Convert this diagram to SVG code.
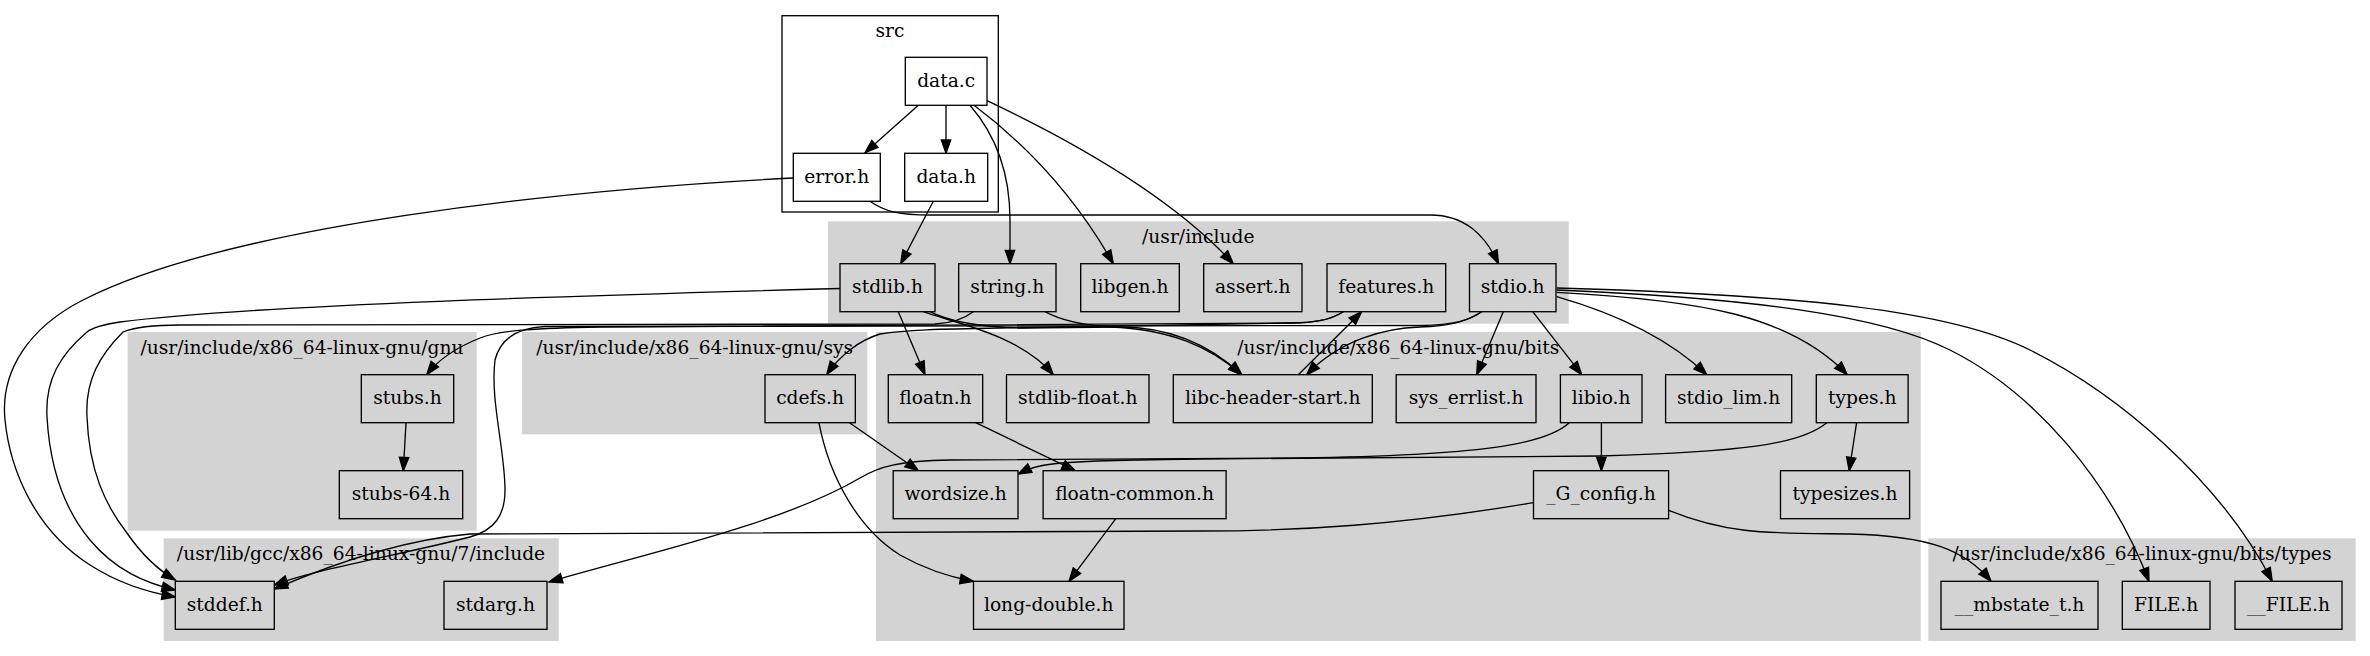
<svg xmlns="http://www.w3.org/2000/svg" width="2370" height="656" viewBox="0 0 2370 656">
<style>
text{font-family:"DejaVu Serif","Liberation Serif",serif;font-size:18.67px;text-anchor:middle;fill:#000}
.cl{fill:#d3d3d3;stroke:#d3d3d3;stroke-width:1.33}
.src{fill:#fff;stroke:#000;stroke-width:1.33}
.n rect{fill:#d3d3d3;stroke:#000;stroke-width:1.33}
.w rect{fill:#fff;stroke:#000;stroke-width:1.33}
#edges path{fill:none;stroke:#000;stroke-width:1.33;marker-end:url(#ah)}
</style>
<defs>
<marker id="ah" markerUnits="userSpaceOnUse" markerWidth="16" markerHeight="12" refX="13.3" refY="4.7" orient="auto" overflow="visible">
<path d="M0,0 L13.3,4.7 L0,9.4 z" fill="#000" stroke="#000" stroke-width="1.33"/>
</marker>
</defs>
<rect width="2370" height="656" fill="#fff"/>
<g id="clusters">
<rect class="src" x="782" y="15.7" width="216.3" height="196.3"/>
<text x="890" y="36.5">src</text>
<rect class="cl" x="828.7" y="222" width="739.3" height="101"/>
<text x="1198.3" y="242.7">/usr/include</text>
<rect class="cl" x="128.3" y="332.7" width="347.7" height="197.3"/>
<text x="302" y="354">/usr/include/x86_64-linux-gnu/gnu</text>
<rect class="cl" x="522.7" y="332.7" width="344" height="101"/>
<text x="694.7" y="354">/usr/include/x86_64-linux-gnu/sys</text>
<rect class="cl" x="876.7" y="332.7" width="1043.3" height="307.6"/>
<text x="1398.3" y="354">/usr/include/x86_64-linux-gnu/bits</text>
<rect class="cl" x="164.3" y="539" width="393.7" height="101.3"/>
<text x="361" y="560">/usr/lib/gcc/x86_64-linux-gnu/7/include</text>
<rect class="cl" x="1929" y="539" width="426" height="101.3"/>
<text x="2142" y="560">/usr/include/x86_64-linux-gnu/bits/types</text>
</g>
<g id="edges">
<path d="M918.3,105.3 L865,152.7"/>
<path d="M946,105.3 L946,153.3"/>
<path d="M970,105.3 C1000,140 1010,180 1010,220 L1010,263.7"/>
<path d="M974,105.3 Q1060,170 1113.3,263.7"/>
<path d="M987,100.7 C1070,140 1170,195 1233.3,263.7"/>
<path d="M793.3,178 C560,190 230,225 83,300 C30,327 0,370 5,420 C10,470 35,530 90,565 C115,581 145,592 175.3,597"/>
<path d="M870,201.3 C885,212 900,215 930,215 L1430,215 C1465,215 1485,235 1498.5,263.7"/>
<path d="M933.3,201.3 L900.7,263.7"/>
<path d="M840,288.5 C600,295 250,305 120,322 C100,325 92,328 87,332 C60,355 45,380 47,417 C50,470 65,510 90,540 C115,570 145,583 175.3,590"/>
<path d="M973.3,311.7 C965,318 955,323 935,324 L180,325 C150,325 135,327 123,332 C100,355 85,380 87,417 C89,470 105,505 127,533 C140,552 155,568 175.3,580"/>
<path d="M1481.7,311.7 C1470,320 1455,325 1420,325.5 L545,326.5 C515,328 500,340 495,360 C490,400 505,450 505,490 C505,515 495,530 470,537 C400,555 320,568 274.3,585"/>
<path d="M1533.5,502.7 C1400,525 1300,531 1200,531 L470,534 C400,540 330,565 274.3,589"/>
<path d="M898.3,311.7 L925,374.7"/>
<path d="M923.3,311.7 C955,323 1020,335 1053.3,374.7"/>
<path d="M930,311.7 C950,322 980,327 1020,328 L1120,327 C1170,327 1210,345 1241.7,374.7"/>
<path d="M1045,311.7 C1060,320 1080,325 1110,327 C1170,329 1210,347 1241.7,374.7"/>
<path d="M1481.7,311.7 C1465,322 1450,326 1420,327 C1385,328 1340,340 1306.7,374.7"/>
<path d="M1298.3,374.7 L1361.7,311.7"/>
<path d="M1343.3,311.7 C1330,320 1315,323 1290,323 L600,327 C540,328 500,330 480,338 C455,348 438,360 426.7,374.7"/>
<path d="M1343.3,311.7 C1330,320 1315,323 1290,323 L1000,328 C940,329 905,330 880,334 C860,340 840,355 826.7,374.7"/>
<path d="M1503.3,311.7 L1476.7,374.7"/>
<path d="M1532.7,311.7 L1581.7,374.7"/>
<path d="M1556.7,296.7 C1610,312 1665,335 1706.7,374.7"/>
<path d="M1556.7,292.3 C1700,300 1790,315 1847.3,374.7"/>
<path d="M1556.7,290 C1750,298 1880,315 1950,350 C2034,392 2110,480 2149,581.3"/>
<path d="M1556.7,288 C1800,295 1950,310 2030,350 C2118,394 2220,480 2272.2,581.3"/>
<path d="M849.5,422.7 L918.4,470.7"/>
<path d="M818.9,422.7 C830,480 860,530 900,555 C930,572 955,578 973.5,581.3"/>
<path d="M975.7,422.7 L1075.2,470.7"/>
<path d="M1115.8,518.7 L1069,581.3"/>
<path d="M1601.4,422.7 L1601.4,470.7"/>
<path d="M1569.3,422.7 C1545,445 1480,455 1300,458 L950,460 C900,461 880,466 860,478 C780,525 640,555 549,582"/>
<path d="M1826.8,422.7 C1800,445 1740,452 1600,456 L1200,459 C1120,460 1060,461 1040,466 C1030,468 1024,471 1018,474"/>
<path d="M1856.6,422.7 L1849.2,470.7"/>
<path d="M1668.6,510.3 C1730,535 1770,533 1850,534 C1930,536 1965,550 1991,581.3"/>
<path d="M406,422.7 L403.3,470.7"/>
</g>
<g id="nodes">
<g id="node-data_c" class="w"><rect x="905.3" y="57.3" width="81.7" height="48"/><text x="946.2" y="86.5">data.c</text></g>
<g id="node-error_h" class="w"><rect x="793.3" y="153.3" width="87" height="48"/><text x="836.8" y="182.5">error.h</text></g>
<g id="node-data_h" class="w"><rect x="904.7" y="153.3" width="83" height="48"/><text x="946.2" y="182.5">data.h</text></g>
<g id="node-stdlib_h" class="n"><rect x="840" y="263.7" width="95" height="48"/><text x="887.5" y="292.9">stdlib.h</text></g>
<g id="node-string_h" class="n"><rect x="958.7" y="263.7" width="97.3" height="48"/><text x="1007.3" y="292.9">string.h</text></g>
<g id="node-libgen_h" class="n"><rect x="1080.7" y="263.7" width="98.6" height="48"/><text x="1130" y="292.9">libgen.h</text></g>
<g id="node-assert_h" class="n"><rect x="1203.7" y="263.7" width="98.3" height="48"/><text x="1252.8" y="292.9">assert.h</text></g>
<g id="node-features_h" class="n"><rect x="1327" y="263.7" width="118.7" height="48"/><text x="1386.3" y="292.9">features.h</text></g>
<g id="node-stdio_h" class="n"><rect x="1469.5" y="263.7" width="86.5" height="48"/><text x="1512.7" y="292.9">stdio.h</text></g>
<g id="node-stubs_h" class="n"><rect x="361.3" y="374.7" width="92.4" height="48"/><text x="407.5" y="403.9">stubs.h</text></g>
<g id="node-stubs-64_h" class="n"><rect x="339.3" y="470.7" width="123.4" height="48"/><text x="401" y="499.9">stubs-64.h</text></g>
<g id="node-cdefs_h" class="n"><rect x="765" y="374.7" width="90.3" height="48"/><text x="810.1" y="403.9">cdefs.h</text></g>
<g id="node-floatn_h" class="n"><rect x="888.3" y="374.7" width="94.4" height="48"/><text x="935.5" y="403.9">floatn.h</text></g>
<g id="node-stdlib-float_h" class="n"><rect x="1006.5" y="374.7" width="142.5" height="48"/><text x="1077.7" y="403.9">stdlib-float.h</text></g>
<g id="node-libc-header-start_h" class="n"><rect x="1173.3" y="374.7" width="199" height="48"/><text x="1272.8" y="403.9">libc-header-start.h</text></g>
<g id="node-sys_errlist_h" class="n"><rect x="1396.2" y="374.7" width="139.8" height="48"/><text x="1466.1" y="403.9">sys_errlist.h</text></g>
<g id="node-libio_h" class="n"><rect x="1560.4" y="374.7" width="81.6" height="48"/><text x="1601.2" y="403.9">libio.h</text></g>
<g id="node-stdio_lim_h" class="n"><rect x="1665.6" y="374.7" width="126.1" height="48"/><text x="1728.6" y="403.9">stdio_lim.h</text></g>
<g id="node-types_h" class="n"><rect x="1816.3" y="374.7" width="91.8" height="48"/><text x="1862.2" y="403.9">types.h</text></g>
<g id="node-wordsize_h" class="n"><rect x="893.2" y="470.7" width="124.8" height="48"/><text x="955.6" y="499.9">wordsize.h</text></g>
<g id="node-floatn-common_h" class="n"><rect x="1043.1" y="470.7" width="183" height="48"/><text x="1134.6" y="499.9">floatn-common.h</text></g>
<g id="node-_G_config_h" class="n"><rect x="1533.5" y="470.7" width="135.1" height="48"/><text x="1601" y="499.9">_G_config.h</text></g>
<g id="node-typesizes_h" class="n"><rect x="1780.5" y="470.7" width="129.1" height="48"/><text x="1845" y="499.9">typesizes.h</text></g>
<g id="node-long-double_h" class="n"><rect x="973.5" y="581.3" width="150.5" height="48"/><text x="1048.7" y="610.5">long-double.h</text></g>
<g id="node-stddef_h" class="n"><rect x="175.3" y="581.3" width="99" height="48"/><text x="224.8" y="610.5">stddef.h</text></g>
<g id="node-stdarg_h" class="n"><rect x="444" y="581.3" width="103" height="48"/><text x="495.5" y="610.5">stdarg.h</text></g>
<g id="node-__mbstate_t_h" class="n"><rect x="1941" y="581.3" width="157" height="48"/><text x="2019.5" y="610.5">__mbstate_t.h</text></g>
<g id="node-FILE_h" class="n"><rect x="2122.3" y="581.3" width="87.7" height="48"/><text x="2166.1" y="610.5">FILE.h</text></g>
<g id="node-__FILE_h" class="n"><rect x="2235" y="581.3" width="107" height="48"/><text x="2288.5" y="610.5">__FILE.h</text></g>
</g>
</svg>
